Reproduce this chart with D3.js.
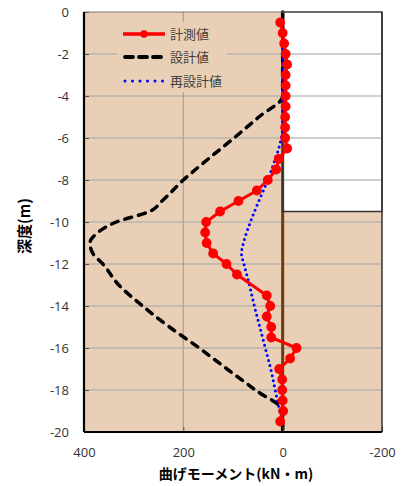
<!DOCTYPE html>
<html>
<head>
<meta charset="utf-8">
<script src="https://cdn.jsdelivr.net/npm/d3@7"></script>
<style>
  body { margin: 0; background: #fff; }
  text { font-family: "Noto Sans CJK JP", "Noto Sans", sans-serif; }
</style>
</head>
<body>
<div id="wrapper"></div>
<script>
// 計測値 (measured)
const measuredDepth = [-0.5,-1,-1.5,-2,-2.5,-3,-3.5,-4,-4.5,-5,-5.5,-6,-6.5,-7,-7.5,-8,-8.5,-9,-9.5,-10,-10.5,-11,-11.5,-12,-12.5,-13.5,-14,-14.5,-15,-15.5,-16,-16.5,-17,-17.5,-18,-18.5,-19,-19.5]
const measuredMoment = [5,0,-3,-6,-9,-6,-6,-6,-6,-5,-5,-5,-9,8,13,30,52,89,126,154,156,153,140,113,92,32,25,32,23,23,-28,-15,7,1,1,0,-1,5]

// 設計値 (design)
const designDepth = [0,-4,-5,-6,-7,-8,-9,-9.5,-10,-10.5,-11,-11.5,-12,-13,-14,-15,-16,-17,-18,-19,-20]
const designMoment = [0,0,48,98,150,200,243,268,335,372,388,382,362,330,282,228,168,112,55,0,0]

// 再設計値 (redesign)
const redesignDepth = [-0.5,-5.5,-6,-6.5,-7,-8,-9,-10,-11,-11.5,-12,-13,-14,-15,-16,-17,-18,-19,-19.5]
const redesignMoment = [0,0,3,8,15,30,48,65,79,83,78,67,57,46,35,24,15,6,1]

const xTicks = [400, 200, 0, -200]
const yTicks = [0,-2,-4,-6,-8,-10,-12,-14,-16,-18,-20]
const legendLabels = ["計測値", "設計値", "再設計値"]
const excavation = { depth: -9.5 }

function draw() {
    const dimensions = {
        width: 401,
        height: 486,
        margin: { top: 12, right: 19, bottom: 54, left: 84 },
    }
    dimensions.boundedWidth = dimensions.width - dimensions.margin.left - dimensions.margin.right
    dimensions.boundedHeight = dimensions.height - dimensions.margin.top - dimensions.margin.bottom

    const wrapper = d3.select("#wrapper")
        .append("svg")
        .attr("width", dimensions.width)
        .attr("height", dimensions.height)

    const bounds = wrapper.append("g")
        .attr("transform", `translate(${dimensions.margin.left},${dimensions.margin.top})`)

    // scales
    const xScale = d3.scaleLinear()
        .domain([400, -200])
        .range([0, dimensions.boundedWidth])
    const yScale = d3.scaleLinear()
        .domain([0, -20])
        .range([0, dimensions.boundedHeight])

    // background
    bounds.append("rect")
        .attr("width", dimensions.boundedWidth)
        .attr("height", dimensions.boundedHeight)
        .attr("fill", "#E8CFB6")

    // excavated zone (white)
    bounds.append("rect")
        .attr("x", xScale(0))
        .attr("y", yScale(0))
        .attr("width", xScale(-200) - xScale(0))
        .attr("height", yScale(excavation.depth) - yScale(0))
        .attr("fill", "#fff")

    // gridlines
    bounds.append("g").selectAll("line")
        .data(yTicks.filter(d => d != 0 && d != -20))
        .join("line")
        .attr("x1", 0).attr("x2", dimensions.boundedWidth)
        .attr("y1", d => yScale(d)).attr("y2", d => yScale(d))
        .attr("stroke", "#A3A3A3").attr("stroke-width", 1.2)
    bounds.append("line")
        .attr("x1", xScale(200)).attr("x2", xScale(200))
        .attr("y1", 0).attr("y2", dimensions.boundedHeight)
        .attr("stroke", "#A3A3A3").attr("stroke-width", 1.2)

    // pile
    bounds.append("line")
        .attr("x1", xScale(0)).attr("x2", xScale(0))
        .attr("y1", 0).attr("y2", dimensions.boundedHeight)
        .attr("stroke", "#6E3B10").attr("stroke-width", 3)

    bounds.append("rect")
        .attr("x", xScale(0))
        .attr("y", yScale(0))
        .attr("width", xScale(-200) - xScale(0))
        .attr("height", yScale(excavation.depth) - yScale(0))
        .attr("fill", "none")
        .attr("stroke", "#333").attr("stroke-width", 1.5)

    // legend background (hides gridlines)
    const legend = bounds.append("g").attr("transform", "translate(33,10)")
    legend.append("rect")
        .attr("width", 110).attr("height", 70)
        .attr("fill", "#E8CFB6")

    // lines
    const line = d3.line()
        .x(d => xScale(d[1]))
        .y(d => yScale(d[0]))

    const designData = d3.zip(designDepth, designMoment)
    bounds.append("path")
        .attr("d", line.curve(d3.curveMonotoneY)(designData))
        .attr("fill", "none")
        .attr("stroke", "#000")
        .attr("stroke-width", 3.5)
        .attr("stroke-linecap", "round")
        .attr("stroke-dasharray", "7 7")

    const redesignData = d3.zip(redesignDepth, redesignMoment)
    bounds.append("path")
        .attr("d", line.curve(d3.curveMonotoneY)(redesignData))
        .attr("fill", "none")
        .attr("stroke", "#0000FF")
        .attr("stroke-width", 3)
        .attr("stroke-linecap", "round")
        .attr("stroke-dasharray", "0 5.2")

    const measuredData = d3.zip(measuredDepth, measuredMoment)
    bounds.append("path")
        .attr("d", line.curve(d3.curveLinear)(measuredData))
        .attr("fill", "none")
        .attr("stroke", "#FF0000")
        .attr("stroke-width", 3)
    bounds.append("g").selectAll("circle")
        .data(measuredData)
        .join("circle")
        .attr("cx", d => xScale(d[1]))
        .attr("cy", d => yScale(d[0]))
        .attr("r", 4.9)
        .attr("fill", "#FF0000")

    // legend items
    const rowY = [12, 35, 59]
    legend.append("line").attr("x1", 6).attr("x2", 48).attr("y1", rowY[0]).attr("y2", rowY[0])
        .attr("stroke", "#FF0000").attr("stroke-width", 3.5)
    legend.append("circle").attr("cx", 27).attr("cy", rowY[0]).attr("r", 3.8).attr("fill", "#FF0000")
    legend.append("line").attr("x1", 8).attr("x2", 48).attr("y1", rowY[1]).attr("y2", rowY[1])
        .attr("stroke", "#000").attr("stroke-width", 3.8)
        .attr("stroke-linecap", "round").attr("stroke-dasharray", "8 6")
    legend.append("line").attr("x1", 8).attr("x2", 48).attr("y1", rowY[2]).attr("y2", rowY[2])
        .attr("stroke", "#0000FF").attr("stroke-width", 3)
        .attr("stroke-linecap", "round").attr("stroke-dasharray", "0 7.5")
    legend.selectAll("text.lbl")
        .data(legendLabels)
        .join("text")
        .attr("class", "lbl")
        .attr("x", 53)
        .attr("y", (d, i) => rowY[i])
        .attr("dy", "0.35em")
        .attr("fill", "#404040")
        .style("font-size", "13px")
        .text(d => d)

    // axes
    const xAxisGenerator = d3.axisBottom(xScale)
        .tickValues(xTicks)
        .tickSize(-5)
        .tickPadding(16)
        .tickFormat(d => String(d))
    const xAxis = bounds.append("g")
        .attr("transform", `translate(0,${dimensions.boundedHeight})`)
        .call(xAxisGenerator)
    xAxis.select(".domain").remove()

    const yAxisGenerator = d3.axisLeft(yScale)
        .tickValues(yTicks)
        .tickSize(-5)
        .tickPadding(15)
        .tickFormat(d => String(d))
    const yAxis = bounds.append("g").call(yAxisGenerator)
    yAxis.select(".domain").remove()

    wrapper.selectAll(".tick line").attr("stroke", "#555")
    wrapper.selectAll(".tick text")
        .attr("fill", "#333")
        .style("font-size", "13px")
        .style("font-family", "'Open Sans', sans-serif")

    // frame
    bounds.append("line").attr("x1", 0).attr("x2", dimensions.boundedWidth).attr("y1", 0).attr("y2", 0)
        .attr("stroke", "#777").attr("stroke-width", 1)
    bounds.append("line").attr("x1", dimensions.boundedWidth).attr("x2", dimensions.boundedWidth)
        .attr("y1", 0).attr("y2", dimensions.boundedHeight)
        .attr("stroke", "#333").attr("stroke-width", 1.5)
    bounds.append("line").attr("x1", 0).attr("x2", 0).attr("y1", 0).attr("y2", dimensions.boundedHeight)
        .attr("stroke", "#000").attr("stroke-width", 2.2)
    bounds.append("line").attr("x1", 0).attr("x2", dimensions.boundedWidth)
        .attr("y1", dimensions.boundedHeight).attr("y2", dimensions.boundedHeight)
        .attr("stroke", "#000").attr("stroke-width", 2.2)

    // axis titles
    wrapper.append("text")
        .attr("x", 236)
        .attr("y", 474)
        .attr("dy", "0.35em")
        .attr("text-anchor", "middle")
        .attr("font-weight", "bold")
        .style("font-size", "14px")
        .attr("fill", "#000")
        .text("曲げモーメント(kN・m)")

    wrapper.append("text")
        .attr("transform", "translate(25,226) rotate(-90)")
        .attr("dy", "0.35em")
        .attr("text-anchor", "middle")
        .attr("font-weight", "bold")
        .style("font-size", "15px")
        .attr("fill", "#000")
        .text("深度(m)")
}
draw()
</script>
</body>
</html>
